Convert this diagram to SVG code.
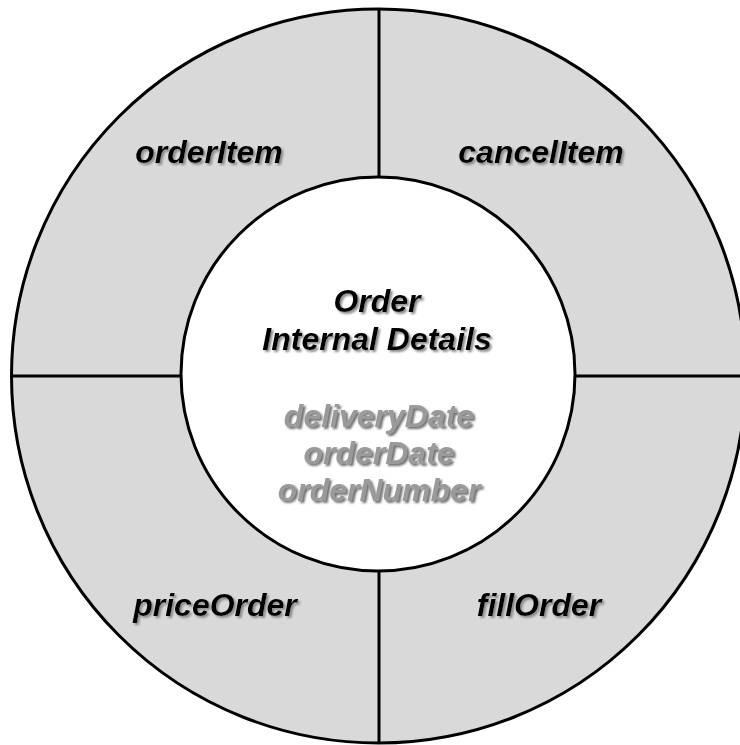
<svg xmlns="http://www.w3.org/2000/svg" width="740" height="745" viewBox="0 0 740 745">
  <style>
    .ring { fill: #d9d9d9; stroke: #000; stroke-width: 3; }
    .core { fill: #fff; stroke: #000; stroke-width: 3; }
    .divider { stroke: #000; stroke-width: 3; fill: none; }
    .lbl { font-family: "Liberation Sans", Arial, sans-serif; font-size: 32px; font-weight: bold; font-style: italic; text-anchor: middle; }
    .dark { fill: #000; filter: url(#shadowDark); }
    .soft { fill: #9a9a9a; filter: url(#shadowSoft); }
  </style>
  <defs>
    <filter id="shadowDark" x="-10%" y="-30%" width="120%" height="160%">
      <feDropShadow dx="2" dy="2" stdDeviation="1" flood-color="#8a8a8a" flood-opacity="1"/>
    </filter>
    <filter id="shadowSoft" x="-10%" y="-30%" width="120%" height="160%">
      <feDropShadow dx="2" dy="2" stdDeviation="1" flood-color="#707070" flood-opacity="1"/>
    </filter>
  </defs>

  <rect width="740" height="745" fill="#fff"/>

  <!-- outer ring of operations -->
  <g id="ring">
    <circle class="ring" cx="378.5" cy="376" r="367"/>
  </g>

  <!-- dividers between the four operations -->
  <g id="connectors">
    <line class="divider" x1="379" y1="9" x2="379" y2="177"/>
    <line class="divider" x1="379" y1="571" x2="379" y2="743"/>
    <line class="divider" x1="11" y1="376" x2="180" y2="376"/>
    <line class="divider" x1="576" y1="376" x2="745" y2="376"/>
  </g>

  <!-- encapsulated core -->
  <g id="core">
    <circle class="core" cx="378" cy="374" r="197"/>
    <text class="lbl dark" x="377" y="312">Order</text>
    <text class="lbl dark" x="377" y="350">Internal Details</text>
    <text class="lbl soft" x="379" y="427">deliveryDate</text>
    <text class="lbl soft" x="379" y="464">orderDate</text>
    <text class="lbl soft" x="379" y="501">orderNumber</text>
  </g>

  <g id="orderItem">
    <text class="lbl dark" x="209" y="163">orderItem</text>
  </g>
  <g id="cancelItem">
    <text class="lbl dark" x="541" y="163">cancelItem</text>
  </g>
  <g id="priceOrder">
    <text class="lbl dark" x="215" y="616">priceOrder</text>
  </g>
  <g id="fillOrder">
    <text class="lbl dark" x="539" y="616">fillOrder</text>
  </g>
</svg>
